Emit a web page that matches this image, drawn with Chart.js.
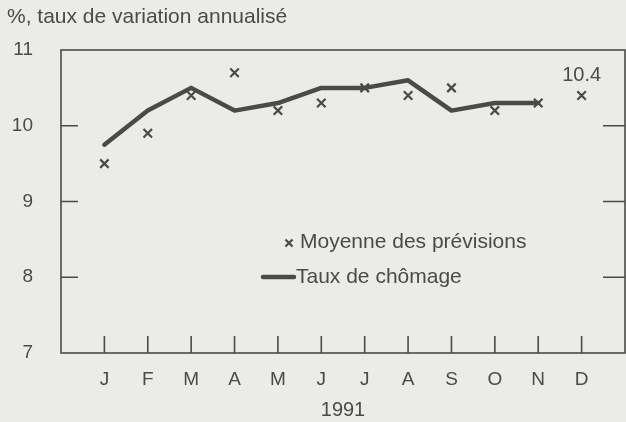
<!DOCTYPE html>
<html>
<head>
<meta charset="utf-8">
<script src="https://cdn.jsdelivr.net/npm/chart.js@4/dist/chart.umd.min.js"></script>
<style>
  html, body { margin: 0; padding: 0; background: #ebebe9; overflow: hidden; width: 626px; height: 422px; }
  #wrap { position: relative; width: 640px; height: 422px; }
  canvas { display: block; }
</style>
</head>
<body>
<div id="wrap"><canvas id="c" width="640" height="422"></canvas></div>
<script>
const months = ['J', 'F', 'M', 'A', 'M', 'J', 'J', 'A', 'S', 'O', 'N', 'D'];
const chomage = [9.75, 10.2, 10.5, 10.2, 10.3, 10.5, 10.5, 10.6, 10.2, 10.3, 10.3];
const previsions = [9.5, 9.9, 10.4, 10.7, 10.2, 10.3, 10.5, 10.4, 10.5, 10.2, 10.3, 10.4];
const yTickValues = [7, 8, 9, 10, 11];
const yearLabel = '1991';
const titleText = '%, taux de variation annualisé';
const legendPrev = 'Moyenne des prévisions';
const legendChom = 'Taux de chômage';

const FONT = '"Liberation Sans", Arial, Helvetica, sans-serif';
const INK = '#4a4a48';
const TEXT = '#4a4a48';

const framePlugin = {
  id: 'frame',
  beforeDatasetsDraw(chart) {
    const { ctx, chartArea: a, scales } = chart;
    ctx.save();
    ctx.strokeStyle = INK;
    ctx.lineWidth = 1.6;
    ctx.strokeRect(a.left, a.top, a.right - a.left, a.bottom - a.top);
    ctx.beginPath();
    scales.y.ticks.forEach(t => {
      if (t.value <= 7 || t.value >= 11) return;
      const y = scales.y.getPixelForValue(t.value);
      ctx.moveTo(a.left, y); ctx.lineTo(a.left + 17, y);
      ctx.moveTo(a.right - 22, y); ctx.lineTo(a.right, y);
    });
    months.forEach((m, i) => {
      const x = scales.x.getPixelForValue(i);
      ctx.moveTo(x, a.bottom); ctx.lineTo(x, a.bottom - 17);
    });
    ctx.stroke();
    ctx.restore();
  },
  afterDraw(chart) {
    const { ctx } = chart;
    ctx.save();
    ctx.fillStyle = TEXT;
    ctx.textBaseline = 'middle';
    ctx.textAlign = 'left';
    ctx.font = '21px ' + FONT;
    ctx.fillText(titleText, 7, 17);

    // value label on last forecast point
    const meta = chart.getDatasetMeta(1);
    const last = meta.data[meta.data.length - 1];
    ctx.textAlign = 'center';
    ctx.font = '20px ' + FONT;
    ctx.fillText(String(previsions[previsions.length - 1]), last.x, last.y - 20);

    // legend
    ctx.textAlign = 'left';
    ctx.font = '21px ' + FONT;
    ctx.strokeStyle = INK;
    ctx.lineWidth = 2.2;
    Chart.helpers.drawPoint(ctx, { pointStyle: 'crossRot', radius: 5, borderWidth: 2.2, rotation: 0 }, 289, 243);
    ctx.fillText(legendPrev, 300, 242);
    ctx.beginPath();
    ctx.lineWidth = 4.5;
    ctx.lineCap = 'round';
    ctx.moveTo(263, 277); ctx.lineTo(294, 277);
    ctx.stroke();
    ctx.fillText(legendChom, 296, 277);
    ctx.restore();
  }
};

new Chart(document.getElementById('c'), {
  type: 'line',
  data: {
    datasets: [
      {
        label: legendChom,
        data: chomage.map((v, i) => ({ x: i, y: v })),
        borderColor: INK,
        borderWidth: 4.5,
        borderJoinStyle: 'round',
        borderCapStyle: 'round',
        pointRadius: 0,
        tension: 0,
        fill: false
      },
      {
        label: legendPrev,
        data: previsions.map((v, i) => ({ x: i, y: v })),
        showLine: false,
        pointStyle: 'crossRot',
        pointRadius: 6,
        pointBorderWidth: 2.2,
        pointBorderColor: INK,
        pointBackgroundColor: INK
      }
    ]
  },
  options: {
    responsive: false,
    animation: false,
    devicePixelRatio: 1,
    layout: { padding: { top: 50, right: 6, bottom: 0, left: 0 } },
    plugins: { legend: { display: false }, tooltip: { enabled: false }, title: { display: false } },
    scales: {
      x: {
        type: 'linear',
        min: -1,
        max: 12,
        afterFit(scale) { scale.height = 69; },
        afterBuildTicks(scale) {
          scale.ticks = [-1].concat(months.map((m, i) => i)).concat([12]).map(v => ({ value: v }));
        },
        grid: { display: false, drawTicks: false },
        border: { display: false },
        ticks: {
          autoSkip: false,
          maxRotation: 0,
          padding: 15,
          color: TEXT,
          font: { family: FONT, size: 19 },
          callback: (v) => (v >= 0 && v < months.length ? months[v] : '')
        },
        title: { display: true, text: yearLabel, color: TEXT, font: { family: FONT, size: 20 }, padding: 0 }
      },
      y: {
        min: 7,
        max: 11,
        afterFit(scale) { scale.width = 61; },
        afterBuildTicks(scale) { scale.ticks = yTickValues.map(v => ({ value: v })); },
        grid: { display: false, drawTicks: false },
        border: { display: false },
        ticks: {
          padding: 28,
          color: TEXT,
          font: { family: FONT, size: 19 }
        }
      }
    }
  },
  plugins: [framePlugin]
});
</script>
</body>
</html>
